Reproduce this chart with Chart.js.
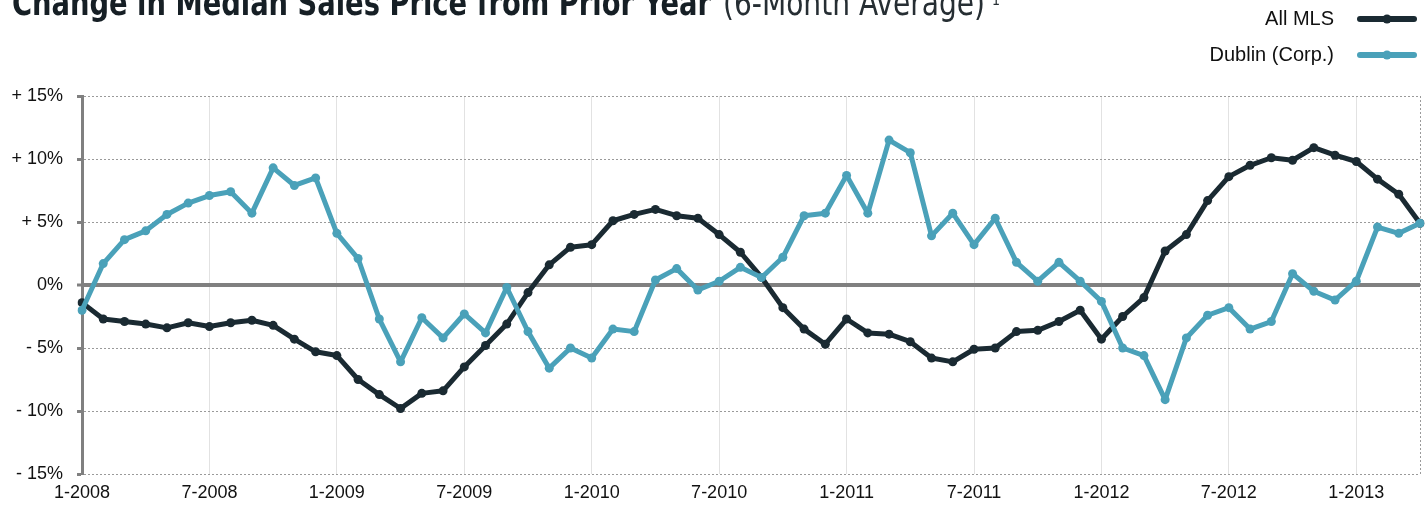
<!DOCTYPE html>
<html>
<head>
<meta charset="utf-8">
<script src="https://cdn.jsdelivr.net/npm/chart.js@4.4.1/dist/chart.umd.min.js"></script>
<style>
    html, body { margin: 0; padding: 0; background: #fff; }
    #wrap { position: relative; width: 1428px; height: 506px; overflow: hidden; }
</style>
</head>
<body>
<div id="wrap"><canvas id="priceChart" width="1428" height="506"></canvas></div>
<script>
// ===========================
// DATA
// ===========================

// Months Jan 2008 .. Apr 2013, labelled "M-YYYY"
const months = [];
for (let y = 2008; y <= 2013; y++) {
    for (let m = 1; m <= 12; m++) {
        if (y === 2013 && m > 4) break;
        months.push(m + '-' + y);
    }
}

// Labels shown on the x axis (every 6 months)
const xTickLabels = ['1-2008', '7-2008', '1-2009', '7-2009', '1-2010', '7-2010',
    '1-2011', '7-2011', '1-2012', '7-2012', '1-2013'];

const yTicks = [-15, -10, -5, 0, 5, 10, 15];

const allMls = [-1.4, -2.7, -2.9, -3.1, -3.4, -3.0, -3.3, -3.0, -2.8, -3.2,
    -4.3, -5.3, -5.6, -7.5, -8.7, -9.8, -8.6, -8.4, -6.5, -4.8,
    -3.1, -0.6, 1.6, 3.0, 3.2, 5.1, 5.6, 6.0, 5.5, 5.3,
    4.0, 2.6, 0.6, -1.8, -3.5, -4.7, -2.7, -3.8, -3.9, -4.5,
    -5.8, -6.1, -5.1, -5.0, -3.7, -3.6, -2.9, -2.0, -4.3, -2.5,
    -1.0, 2.7, 4.0, 6.7, 8.6, 9.5, 10.1, 9.9, 10.9, 10.3,
    9.8, 8.4, 7.2, 4.9];

const dublin = [-2.0, 1.7, 3.6, 4.3, 5.6, 6.5, 7.1, 7.4, 5.7, 9.3,
    7.9, 8.5, 4.1, 2.1, -2.7, -6.1, -2.6, -4.2, -2.3, -3.8,
    -0.2, -3.7, -6.6, -5.0, -5.8, -3.5, -3.7, 0.4, 1.3, -0.4,
    0.3, 1.4, 0.6, 2.2, 5.5, 5.7, 8.7, 5.7, 11.5, 10.5,
    3.9, 5.7, 3.2, 5.3, 1.8, 0.3, 1.8, 0.3, -1.3, -5.0,
    -5.6, -9.1, -4.2, -2.4, -1.8, -3.5, -2.9, 0.9, -0.5, -1.2,
    0.3, 4.6, 4.1, 4.9];

const titleMain = 'Change in Median Sales Price from Prior Year';
const titleSub = '(6-Month Average)';

// ===========================
// STYLE
// ===========================
const DARK = '#1a2a32';
const CYAN = '#4aa1b9';
const AXIS_GRAY = '#808080';
const FONT = '"Liberation Sans", Arial, Helvetica, sans-serif';
const NARROW = '"Liberation Sans Narrow", "DejaVu Sans Condensed", "Liberation Sans", sans-serif';

// squeeze/stretch text to a measured width
function fitText(ctx, text, x, y, w) {
    const m = ctx.measureText(text).width;
    ctx.save();
    ctx.translate(x, y);
    ctx.scale(w / m, 1);
    ctx.fillText(text, 0, 0);
    ctx.restore();
}

// Title + legend drawn on the canvas
const headerPlugin = {
    id: 'header',
    afterDraw(chart) {
        const ctx = chart.ctx;
        ctx.save();
        ctx.fillStyle = '#161f25';
        ctx.textAlign = 'left';
        ctx.textBaseline = 'alphabetic';
        ctx.font = 'bold 36px ' + NARROW;
        fitText(ctx, titleMain, 12, 15, 699);
        ctx.fillStyle = '#262e33';
        ctx.font = '36px ' + NARROW;
        fitText(ctx, titleSub, 723, 15, 262);
        ctx.font = '14px ' + NARROW;
        ctx.fillText('1', 992, 5);

        // legend
        const items = [
            { label: 'All MLS', color: DARK, y: 19 },
            { label: 'Dublin (Corp.)', color: CYAN, y: 55 }
        ];
        items.forEach(item => {
            ctx.fillStyle = '#111';
            ctx.font = '20px ' + FONT;
            ctx.textAlign = 'right';
            ctx.textBaseline = 'middle';
            ctx.fillText(item.label, 1334, item.y);

            ctx.strokeStyle = item.color;
            ctx.lineWidth = 6;
            ctx.lineCap = 'round';
            ctx.beginPath();
            ctx.moveTo(1360, item.y);
            ctx.lineTo(1414, item.y);
            ctx.stroke();
            ctx.fillStyle = item.color;
            ctx.beginPath();
            ctx.arc(1387, item.y, 4.5, 0, Math.PI * 2);
            ctx.fill();
        });
        ctx.restore();
    }
};

const ctx = document.getElementById('priceChart').getContext('2d');
new Chart(ctx, {
    type: 'line',
    data: {
        labels: months,
        datasets: [
            {
                label: 'All MLS',
                data: allMls,
                borderColor: DARK,
                backgroundColor: DARK,
                borderWidth: 5,
                pointRadius: 4.5,
                pointBorderWidth: 0,
                borderJoinStyle: 'round',
                tension: 0,
                order: 1
            },
            {
                label: 'Dublin (Corp.)',
                data: dublin,
                borderColor: CYAN,
                backgroundColor: CYAN,
                borderWidth: 5,
                pointRadius: 4.5,
                pointBorderWidth: 0,
                borderJoinStyle: 'round',
                tension: 0,
                order: 0
            }
        ]
    },
    options: {
        responsive: false,
        animation: false,
        layout: { padding: { left: 0, right: 8, top: 96, bottom: 0 } },
        plugins: {
            legend: { display: false },
            tooltip: { enabled: false },
            title: { display: false }
        },
        scales: {
            x: {
                type: 'category',
                offset: false,
                afterFit: scale => { scale.height = 32; },
                border: {
                    display: false,
                    dash: c => (c.index === months.length - 1 ? [2, 2] : [])
                },
                grid: {
                    drawTicks: false,
                    lineWidth: 1,
                    color: c => {
                        if (c.index === months.length - 1) return '#9a9a9a';
                        return xTickLabels.includes(months[c.index]) ? '#e2e2e2' : 'rgba(0,0,0,0)';
                    }
                },
                ticks: {
                    autoSkip: false,
                    maxRotation: 0,
                    padding: 8,
                    color: '#111',
                    font: { family: FONT, size: 18 },
                    callback: function (value, index) {
                        const lbl = months[index];
                        return xTickLabels.includes(lbl) ? lbl : '';
                    }
                }
            },
            y: {
                min: yTicks[0],
                max: yTicks[yTicks.length - 1],
                afterFit: scale => { scale.width = 82; },
                afterBuildTicks: scale => { scale.ticks = yTicks.map(v => ({ value: v })); },
                border: {
                    display: true,
                    color: AXIS_GRAY,
                    width: 3,
                    dash: c => (c.tick && c.tick.value === 0 ? [] : [2, 2])
                },
                grid: {
                    color: c => (c.tick && c.tick.value === 0 ? AXIS_GRAY : '#9a9a9a'),
                    lineWidth: c => (c.tick && c.tick.value === 0 ? 4 : 1),
                    drawTicks: true,
                    tickLength: 5,
                    tickColor: AXIS_GRAY,
                    tickWidth: 3
                },
                ticks: {
                    padding: 14,
                    color: '#111',
                    font: { family: FONT, size: 18 },
                    callback: function (value) {
                        if (value > 0) return '+ ' + value + '%';
                        if (value < 0) return '- ' + (-value) + '%';
                        return '0%';
                    }
                }
            }
        }
    },
    plugins: [headerPlugin]
});
</script>
</body>
</html>
